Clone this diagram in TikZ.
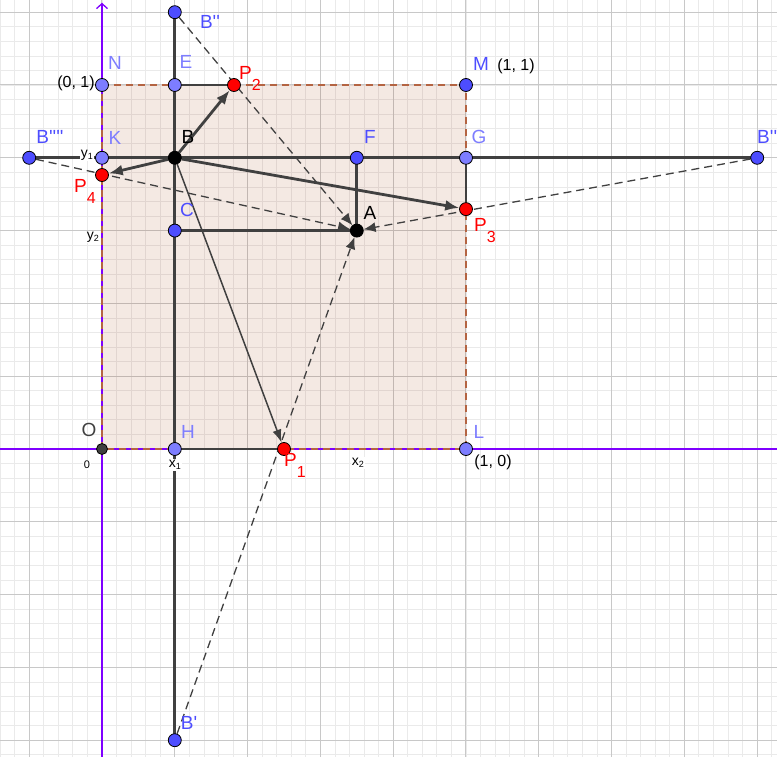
\documentclass[tikz,border=0pt]{standalone}
\usepackage{fontspec}
\newfontfamily\gfont{Liberation Sans}
\usetikzlibrary{arrows.meta}
\definecolor{gmin}{RGB}{234,234,234}
\definecolor{gmaj}{RGB}{200,200,200}
\definecolor{axisc}{RGB}{127,0,255}
\definecolor{sqfill}{RGB}{153,51,0}
\definecolor{sqedge}{RGB}{180,100,66}
\definecolor{dk}{RGB}{64,64,64}
\definecolor{bl}{RGB}{77,77,255}
\definecolor{lb}{RGB}{125,125,255}
\definecolor{rd}{RGB}{255,0,0}
\newcommand\Psub[1]{P\raisebox{-11pt}{\fontsize{16}{16}\selectfont #1}}
\newcommand\tsub[2]{#1\raisebox{-2pt}{\fontsize{9}{9}\selectfont #2}}
\pgfdeclarelayer{gridlayer}
\pgfdeclarelayer{linelayer}
\pgfsetlayers{gridlayer,linelayer,main}
\begin{document}
\begin{tikzpicture}[x=364pt,y=364pt,font=\gfont,
  ptnode/.style={circle,draw=black,line width=0.8pt,minimum size=13pt,inner sep=0pt},
  dpt/.style={ptnode,fill=bl},
  lpt/.style={ptnode,fill=lb},
  rpt/.style={ptnode,fill=rd},
  kpt/.style={ptnode,fill=black},
  lab/.style={inner sep=0pt,font=\gfont\fontsize{19}{19}\selectfont},
  coordlab/.style={inner sep=0pt,font=\gfont\fontsize{16}{16}\selectfont},
  ticklab/.style={inner sep=1pt,fill=white,font=\gfont\fontsize{14}{14}\selectfont},
  thk/.style={draw=dk,line width=2.8pt},
  thkarrow/.style={draw=dk,line width=2.8pt,-{Latex[length=14pt,width=11pt]}},
  thinarrow/.style={draw=dk,line width=1.5pt,-{Latex[length=13pt,width=9pt]}},
  dasharrow/.style={draw=dk,line width=1.3pt,dash pattern=on 8pt off 5pt,-{Latex[length=12pt,width=10pt]}},
  axisline/.style={draw=axisc,line width=1.3pt},
  sqborder/.style={draw=sqedge,line width=1.6pt,dash pattern=on 7pt off 5pt}
]
\useasboundingbox (-102pt,-308pt) rectangle (675pt,449pt);
\clip (-102pt,-308pt) rectangle (675pt,449pt);

% points
\node[kpt] (A) at (0.7,0.6) {};
\node[kpt] (B) at (0.2,0.8) {};
\node[dpt] (B2) at (0.2,1.2) {};
\node[dpt] (B1) at (0.2,-0.8) {};
\node[dpt] (B3) at (1.8,0.8) {};
\node[dpt] (B4) at (-0.2,0.8) {};
\node[lpt] (E) at (0.2,1) {};
\node[lpt] (N) at (0,1) {};
\node[dpt] (M) at (1,1) {};
\node[lpt] (K) at (0,0.8) {};
\node[dpt] (F) at (0.7,0.8) {};
\node[lpt] (G) at (1,0.8) {};
\node[dpt] (C) at (0.2,0.6) {};
\node[lpt] (H) at (0.2,0) {};
\node[lpt] (L) at (1,0) {};
\node[ptnode,fill=dk,minimum size=11pt] (O) at (0,0) {};
\node[rpt] (P1) at (0.5,0) {};
\node[rpt] (P2) at (0.3626,1) {};
\node[rpt] (P3) at (1,0.659) {};
\node[rpt] (P4) at (0,0.7527) {};

\begin{pgfonlayer}{gridlayer}
  \draw[gmin,line width=0.8pt] (-0.32,-0.88) grid[step=0.04] (1.88,1.28);
  \draw[gmaj,line width=1pt] (-0.4,-1) grid[step=0.2] (2,1.4);
  \fill[sqfill,fill opacity=0.11] (0,0) rectangle (1,1);
  \draw[axisline,-{Straight Barb[length=5pt,width=11pt]}] (-0.3,0) -- (1.9,0);
  \draw[axisline,-{Straight Barb[length=5pt,width=11pt]}] (0,-0.9) -- (0,1.226);
  \draw[sqborder] (N.center) -- (M.center) -- (L.center) -- (O.center) -- cycle;
\end{pgfonlayer}

\begin{pgfonlayer}{linelayer}
  \draw[thk] (B2.center) -- (B1.center);
  \draw[thk] (B4.center) -- (B3.center);
  \draw[thk] (E.center) -- (P2.center);
  \draw[thk] (C.center) -- (A.center);
  \draw[thk] (F.center) -- (A.center);
  \draw[thk] (G.center) -- (P3.center);
  \draw[thk] (H.center) -- (P1.center);
  \draw[dasharrow] (B2) -- (A);
  \draw[dasharrow] (B4) -- (A);
  \draw[dasharrow] (B3) -- (A);
  \draw[dasharrow] (B1) -- (A);
  \draw[thkarrow] (B) -- (P2);
  \draw[thkarrow] (B) -- (P3);
  \draw[thkarrow] (B) -- (P4);
  \draw[thinarrow] (B) -- (P1);
\end{pgfonlayer}

% labels
\node[lab,text=bl] (lB2) at (108pt,427pt) {B''};
\node[lab,text=lb] (lE) at (84pt,387pt) {E};
\node[lab,text=lb] (lN) at (13pt,386pt) {N};
\node[lab,text=rd,anchor=base west] (lP2) at (137pt,369pt) {\Psub{2}};
\node[lab,text=bl] (lM) at (379pt,385pt) {M};
\node[coordlab] (t11) at (414pt,383pt) {(1, 1)};
\node[coordlab] (t01) at (-26pt,366pt) {(0, 1)};
\node[lab,text=bl] (lB4) at (-52pt,312pt) {B''''};
\node[lab,text=lb] (lK) at (13pt,311pt) {K};
\node[ticklab] (ty1) at (-15pt,294pt) {\tsub{y}{1}};
\node[lab] (lB) at (86pt,312pt) {B};
\node[lab,text=bl] (lF) at (268pt,312pt) {F};
\node[lab,text=lb] (lG) at (377pt,312pt) {G};
\node[lab,text=bl,anchor=west] (lB3) at (655pt,312pt) {B'''};
\node[lab,text=rd,anchor=base west] (lP4) at (-28pt,256pt) {\Psub{4}};
\node[lab,text=bl] (lC) at (85pt,239pt) {C};
\node[lab] (lA) at (268pt,236pt) {A};
\node[lab,text=rd,anchor=base west] (lP3) at (372pt,217pt) {\Psub{3}};
\node[ticklab] (ty2) at (-9pt,212pt) {\tsub{y}{2}};
\node[lab,text=dk] (lO) at (-13pt,19pt) {O};
\node[lab,text=lb] (lH) at (86pt,17pt) {H};
\node[lab,text=lb] (lL) at (377pt,17pt) {L};
\node[ticklab,font=\gfont\fontsize{11}{11}\selectfont] (t0) at (-15pt,-16pt) {0};
\node[ticklab] (tx1) at (73pt,-16pt) {\tsub{x}{1}};
\node[lab,text=rd,anchor=base west] (lP1) at (182pt,-18pt) {\Psub{1}};
\node[ticklab] (tx2) at (256pt,-14pt) {\tsub{x}{2}};
\node[coordlab] (t10) at (391pt,-13pt) {(1, 0)};
\node[lab,text=bl] (lB1) at (87pt,-274pt) {B'};
\end{tikzpicture}
\end{document}
